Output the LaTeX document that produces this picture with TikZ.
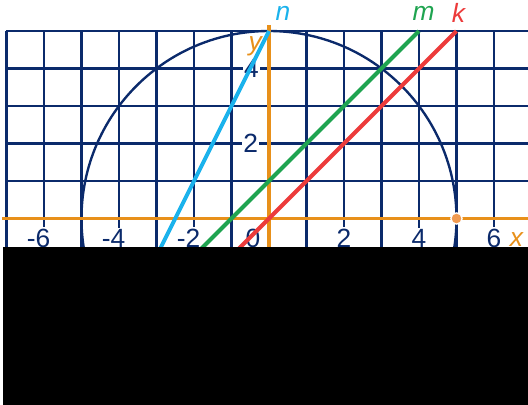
\documentclass[tikz,border=0pt]{standalone}
\usepackage{fontspec}
\setmainfont{Liberation Sans}
\definecolor{navy}{HTML}{0B2A6B}
\definecolor{axisor}{HTML}{E8901A}
\definecolor{dotor}{HTML}{F09A50}
\definecolor{ncol}{HTML}{1AB2EC}
\definecolor{mcol}{HTML}{1FA450}
\definecolor{kcol}{HTML}{EC3B3B}
\tikzset{
  gridline/.style={navy, line width=1.8pt},
  circ/.style={navy, line width=1.8pt},
  axisline/.style={axisor, line width=2.6pt},
  ticklab/.style={fill=white, inner sep=1pt, text=navy, font=\fontsize{20}{22}\selectfont},
  axlab/.style={text=axisor, font=\fontsize{20}{22}\selectfont\itshape, inner sep=0pt},
  linelab/.style={font=\fontsize{20}{22}\selectfont\itshape, inner sep=0pt},
  graphline/.style={line width=3pt},
}
\begin{document}
\begin{tikzpicture}
\useasboundingbox (-7.173,-4.973) rectangle (6.907,5.827);
\begin{scope}
\clip (-7.173,-4.973) rectangle (6.907,5.827);
\draw[gridline] (-7,-1.5) grid (7,5);
\draw[circ] (0,0) circle (5);
\draw[axisline] (-7.12,0) -- (7,0);
\draw[axisline] (0,-1.5) -- (0,5.15);
\node[ticklab] (tm6) at (-6.03,-0.52) {\llap{-}6};
\node[ticklab] (tm4) at (-4.03,-0.52) {\llap{-}4};
\node[ticklab] (tm2) at (-2.03,-0.52) {\llap{-}2};
\node[ticklab] (t0) at (-0.43,-0.52) {0};
\node[ticklab] (t2) at (2,-0.52) {2};
\node[ticklab] (t4) at (4,-0.52) {4};
\node[ticklab] (t6) at (6,-0.52) {6};
\node[ticklab] (y2) at (-0.49,2) {2};
\node[ticklab] (y4) at (-0.47,4) {4};
\node[axlab] (xl) at (6.6,-0.55) {x};
\node[axlab] (yl) at (-0.37,4.6) {y};
\coordinate (n1) at (0,5);
\coordinate (n2) at (-3.25,-1.5);
\coordinate (m1) at (4,5);
\coordinate (m2) at (-2.5,-1.5);
\coordinate (k1) at (5,5);
\coordinate (k2) at (-1.5,-1.5);
\draw[graphline, ncol] (n2) -- (n1);
\draw[graphline, mcol] (m2) -- (m1);
\draw[graphline, kcol] (k2) -- (k1);
\node[linelab, text=ncol] (nl) at (0.37,5.47) {n};
\node[linelab, text=mcol] (ml) at (4.12,5.47) {m};
\node[linelab, text=kcol] (kl) at (5.05,5.47) {k};
\node[circle, fill=dotor, draw=white, line width=1pt, minimum size=0.3cm, inner sep=0pt] (dot) at (5,0) {};
\fill[black] (-7.093,-0.773) rectangle (7,-5);
\end{scope}
\end{tikzpicture}
\end{document}
